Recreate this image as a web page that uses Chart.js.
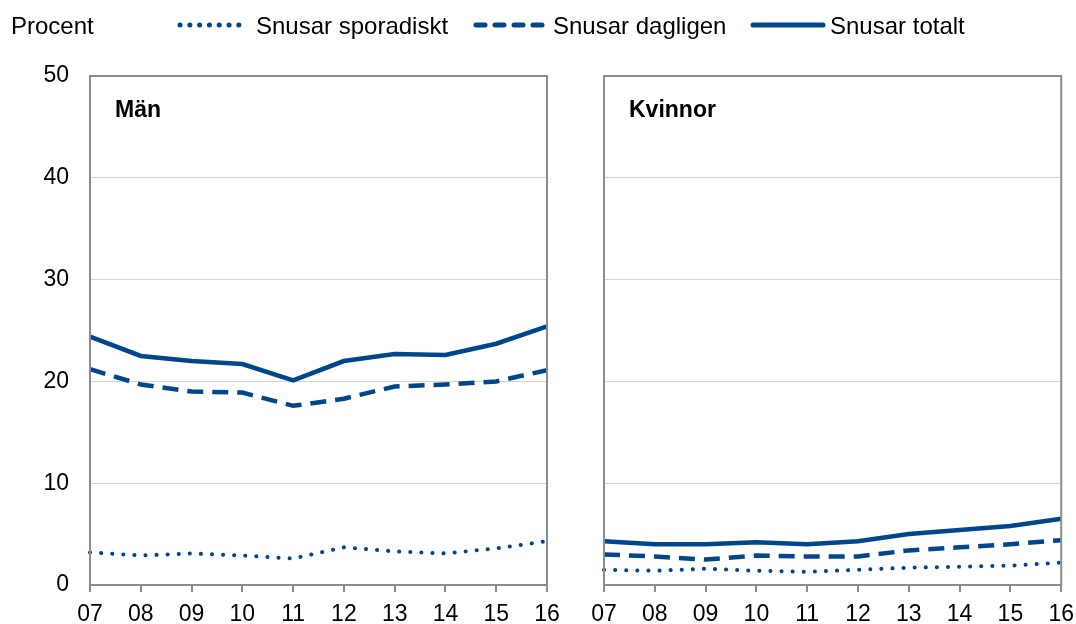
<!DOCTYPE html>
<html>
<head>
<meta charset="utf-8">
<script src="https://cdn.jsdelivr.net/npm/chart.js@4"></script>
<style>
  body { margin: 0; background: #fff; font-family: "Liberation Sans", Arial, sans-serif; }
  #wrap { position: relative; width: 1076px; height: 624px; overflow: hidden; }
  canvas { position: absolute; top: 0; }
  .txt { position: absolute; top: 14px; font-size: 24px; line-height: 24px; color: #000; white-space: nowrap; }
  .sw { position: absolute; top: 19px; }
</style>
</head>
<body>
<div id="wrap">
  <canvas id="men" width="576" height="624" style="left:0"></canvas>
  <canvas id="women" width="507" height="624" style="left:576px"></canvas>
  <div class="txt" style="left:11px;">Procent</div>
  <svg class="sw" style="left:176px" width="76" height="12"><line x1="4" y1="6" x2="72" y2="6" stroke="#00468b" stroke-width="5" stroke-linecap="round" stroke-dasharray="0.1 9.7"/></svg>
  <div class="txt" style="left:256px;">Snusar sporadiskt</div>
  <svg class="sw" style="left:472px" width="78" height="12"><line x1="4" y1="6" x2="74" y2="6" stroke="#00468b" stroke-width="5" stroke-linecap="round" stroke-dasharray="9 10"/></svg>
  <div class="txt" style="left:553px;">Snusar dagligen</div>
  <svg class="sw" style="left:749px" width="78" height="12"><line x1="4" y1="6" x2="74" y2="6" stroke="#00468b" stroke-width="5" stroke-linecap="round"/></svg>
  <div class="txt" style="left:830px;">Snusar totalt</div>
</div>
<script>
// years on the x axis
const years = ["07", "08", "09", "10", "11", "12", "13", "14", "15", "16"];

// Män
const menSporadiskt = [3.2, 2.9, 3.1, 2.9, 2.6, 3.7, 3.3, 3.1, 3.6, 4.3];
const menDagligen   = [21.2, 19.7, 19.0, 18.9, 17.6, 18.3, 19.5, 19.7, 20.0, 21.1];
const menTotalt     = [24.4, 22.5, 22.0, 21.7, 20.1, 22.0, 22.7, 22.6, 23.7, 25.4];

// Kvinnor
const womenSporadiskt = [1.5, 1.4, 1.6, 1.4, 1.3, 1.5, 1.7, 1.8, 1.9, 2.2];
const womenDagligen   = [3.0, 2.8, 2.5, 2.9, 2.8, 2.8, 3.4, 3.7, 4.0, 4.4];
const womenTotalt     = [4.3, 4.0, 4.0, 4.2, 4.0, 4.3, 5.0, 5.4, 5.8, 6.5];

const yTicks = [0, 10, 20, 30, 40, 50];

const blue = "#00468b";
const font = { family: "'Liberation Sans', Arial, sans-serif", size: 23 };

// frame + panel title
const framePlugin = {
  id: "frame",
  afterDraw(chart, args, opts) {
    const { ctx, chartArea: a } = chart;
    ctx.save();
    ctx.strokeStyle = "#8c8c8c";
    ctx.lineWidth = 2;
    ctx.strokeRect(a.left, a.top, a.right - a.left, a.bottom - a.top);
    ctx.fillStyle = "#000";
    ctx.font = "bold 23px 'Liberation Sans', Arial, sans-serif";
    ctx.textBaseline = "alphabetic";
    ctx.fillText(opts.title, a.left + 25, a.top + 41);
    ctx.restore();
  }
};

function makeChart(id, title, spor, dagl, tot, showY, pad) {
  new Chart(document.getElementById(id), {
    type: "line",
    data: {
      labels: years,
      datasets: [
        { data: spor, borderColor: blue, borderWidth: 4, borderDash: [0.1, 11], borderCapStyle: "round" },
        { data: dagl, borderColor: blue, borderWidth: 4.5, borderDash: [16, 9] },
        { data: tot, borderColor: blue, borderWidth: 4.5 }
      ]
    },
    options: {
      responsive: false,
      animation: false,
      events: [],
      layout: { padding: pad },
      elements: { point: { radius: 0 }, line: { tension: 0 } },
      plugins: { legend: { display: false }, tooltip: { enabled: false }, frame: { title } },
      scales: {
        x: {
          offset: false,
          grid: { drawOnChartArea: false, drawTicks: true, tickLength: 7, color: "#8c8c8c", lineWidth: 2 },
          border: { display: false },
          ticks: { color: "#000", font, padding: 9, maxRotation: 0, autoSkip: false },
          afterFit(s) { s.height = 39; }
        },
        y: {
          min: 0, max: 50,
          afterBuildTicks(s) { s.ticks = yTicks.map(v => ({ value: v })); },
          grid: {
            drawTicks: false,
            color: c => (c.tick.value === 0 || c.tick.value === 50) ? "rgba(0,0,0,0)" : "#d4d4d4",
            lineWidth: 1
          },
          border: { display: false },
          ticks: { display: showY, color: "#000", font, padding: 21 },
          afterFit(s) { s.width = showY ? 88 : 0; }
        }
      }
    },
    plugins: [framePlugin]
  });
}

makeChart("men", "Män", menSporadiskt, menDagligen, menTotalt, true, { top: 76, left: 2, right: 29, bottom: 0 });
makeChart("women", "Kvinnor", womenSporadiskt, womenDagligen, womenTotalt, false, { top: 76, left: 28, right: 8, bottom: 0 });
</script>
</body>
</html>
